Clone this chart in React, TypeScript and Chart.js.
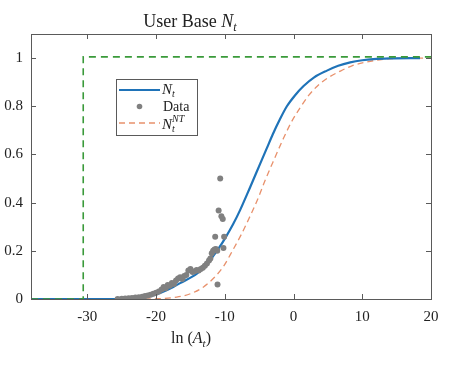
import React, { useEffect, useRef } from "react";
import { Chart, registerables } from "chart.js";

Chart.register(...registerables);

const xTicks = [-30, -20, -10, 0, 10, 20];
const yTicks = [0, 0.2, 0.4, 0.6, 0.8, 1];

const blueX = [-38.2, -28, -24, -22.3, -20.5, -19.4, -17.5, -16.5, -14.06, -12.6, -10.9, -9.9, -8.8, -7.76, -6.3, -4.85, -3.9, -3.0, -2.0, -0.97, 0.2, 1.46, 3.0, 4.86, 6.5, 8.25, 10.0, 11.6, 14.0, 18.4];
const blueY = [0, 0, 0.001, 0.004, 0.015, 0.025, 0.05, 0.066, 0.105, 0.145, 0.21, 0.255, 0.31, 0.37, 0.465, 0.562, 0.625, 0.685, 0.745, 0.8, 0.845, 0.884, 0.92, 0.948, 0.968, 0.982, 0.991, 0.996, 0.999, 1.0];

const orangeX = [-26, -20, -17, -15, -13.1, -11.5, -10.2, -8.8, -7.6, -6.5, -5.2, -4.1, -3.0, -1.5, -0.3, 0.98, 2.2, 3.4, 5.0, 6.8, 8.5, 10.7, 12.5, 14.6, 20];
const orangeY = [0, 0.001, 0.008, 0.022, 0.05, 0.09, 0.135, 0.205, 0.268, 0.333, 0.415, 0.495, 0.568, 0.665, 0.735, 0.795, 0.845, 0.882, 0.918, 0.946, 0.968, 0.984, 0.993, 0.998, 1.0];

const greenX = [-38.2, -30.6, -30.6, 20];
const greenY = [0, 0, 1.005, 1.005];

const dataX = [-25.6, -25.0, -24.5, -24.0, -23.5, -23.0, -22.5, -22.0, -21.6, -21.2, -20.8, -20.4, -20.0, -19.6, -19.2, -18.9, -18.6, -18.3, -18.0, -17.7, -17.4, -17.1, -16.8, -16.5, -16.2, -15.9, -15.6, -15.3, -15.0, -14.7, -14.4, -14.1, -13.8, -13.5, -13.2, -12.9, -12.6, -12.3, -12.1, -11.9, -11.7, -11.5, -11.3, -11.1, -11.4, -10.1, -10.2, -10.9, -10.5, -10.3, -10.67, -11.06];
const dataY = [0.0, 0.001, 0.002, 0.003, 0.004, 0.006, 0.007, 0.009, 0.012, 0.015, 0.018, 0.022, 0.026, 0.031, 0.039, 0.05, 0.045, 0.058, 0.055, 0.066, 0.062, 0.077, 0.085, 0.09, 0.083, 0.095, 0.1, 0.118, 0.125, 0.112, 0.115, 0.12, 0.118, 0.125, 0.13, 0.138, 0.147, 0.16, 0.168, 0.19, 0.2, 0.205, 0.208, 0.2, 0.258, 0.258, 0.212, 0.367, 0.343, 0.332, 0.5, 0.06];

const titleText = "User Base ";
const xLabelText = "ln (";
const legendLabels = ["Data"];

const SERIF = "'Liberation Serif', 'DejaVu Serif', serif";
const BLUE = "#1f73b8";
const ORANGE = "#e8916c";
const GREEN = "#3a9a3a";
const GREY = "#808080";

const pts = (xs: number[], ys: number[]) => xs.map((x, i) => ({ x, y: ys[i] }));

type Part = { t: string; italic?: boolean; size: number; dy?: number };

function drawRich(ctx: CanvasRenderingContext2D, parts: Part[], x: number, y: number, align: "left" | "center") {
  let w = 0;
  for (const p of parts) {
    ctx.font = `${p.italic ? "italic " : ""}${p.size}px ${SERIF}`;
    w += ctx.measureText(p.t).width;
  }
  let cx = align === "center" ? x - w / 2 : x;
  ctx.textBaseline = "alphabetic";
  ctx.textAlign = "left";
  for (const p of parts) {
    ctx.font = `${p.italic ? "italic " : ""}${p.size}px ${SERIF}`;
    ctx.fillText(p.t, cx, y + (p.dy || 0));
    cx += ctx.measureText(p.t).width;
  }
}

const decor = {
  id: "decor",
  afterDraw(chart: any) {
    const ctx: CanvasRenderingContext2D = chart.ctx;
    const { left, right, top, bottom } = chart.chartArea;
    const xs = chart.scales.x;
    const ys = chart.scales.y;
    ctx.save();
    ctx.strokeStyle = "#5a5a5a";
    ctx.lineWidth = 1;
    ctx.setLineDash([]);
    ctx.strokeRect(Math.round(left) + 0.5, Math.round(top) + 0.5, Math.round(right - left), Math.round(bottom - top));
    ctx.beginPath();
    for (const v of xTicks) {
      const px = Math.round(xs.getPixelForValue(v)) + 0.5;
      ctx.moveTo(px, bottom);
      ctx.lineTo(px, bottom - 5);
      ctx.moveTo(px, top);
      ctx.lineTo(px, top + 5);
    }
    for (const v of yTicks) {
      const py = Math.round(ys.getPixelForValue(v)) + 0.5;
      ctx.moveTo(left, py);
      ctx.lineTo(left + 5, py);
      ctx.moveTo(right, py);
      ctx.lineTo(right - 5, py);
    }
    ctx.stroke();

    ctx.fillStyle = "#222";
    drawRich(ctx, [
      { t: titleText, size: 18 },
      { t: "N", italic: true, size: 18 },
      { t: "t", italic: true, size: 12, dy: 4 },
    ], 190, 27, "center");
    drawRich(ctx, [
      { t: xLabelText, size: 16 },
      { t: "A", italic: true, size: 16 },
      { t: "t", italic: true, size: 11, dy: 4 },
      { t: ")", size: 16 },
    ], 191, 343, "center");

    ctx.fillStyle = "#fff";
    ctx.fillRect(116.5, 79.5, 81, 56);
    ctx.strokeStyle = "#5a5a5a";
    ctx.lineWidth = 1;
    ctx.strokeRect(116.5, 79.5, 81, 56);
    ctx.strokeStyle = BLUE;
    ctx.lineWidth = 2;
    ctx.beginPath();
    ctx.moveTo(119, 90);
    ctx.lineTo(160, 90);
    ctx.stroke();
    ctx.fillStyle = GREY;
    ctx.beginPath();
    ctx.arc(139.5, 106.5, 2.8, 0, Math.PI * 2);
    ctx.fill();
    ctx.strokeStyle = ORANGE;
    ctx.lineWidth = 1.3;
    ctx.setLineDash([6, 4]);
    ctx.beginPath();
    ctx.moveTo(119, 123);
    ctx.lineTo(160, 123);
    ctx.stroke();
    ctx.setLineDash([]);
    ctx.fillStyle = "#222";
    drawRich(ctx, [
      { t: "N", italic: true, size: 15 },
      { t: "t", italic: true, size: 10, dy: 3 },
    ], 162, 94, "left");
    drawRich(ctx, [{ t: legendLabels[0], size: 14 }], 163, 111, "left");
    ctx.font = `italic 15px ${SERIF}`;
    ctx.textAlign = "left";
    ctx.textBaseline = "alphabetic";
    ctx.fillText("N", 162, 129);
    const nw = ctx.measureText("N").width;
    ctx.font = `italic 10px ${SERIF}`;
    ctx.fillText("t", 162 + nw, 132);
    ctx.fillText("NT", 162 + nw, 122);
    ctx.restore();
  },
};

export default function App() {
  const ref = useRef<HTMLCanvasElement | null>(null);
  useEffect(() => {
    if (!ref.current) return;
    const chart = new Chart(ref.current, {
      type: "scatter",
      data: {
        datasets: [
          {
            type: "line",
            label: "green",
            data: pts(greenX, greenY),
            borderColor: GREEN,
            borderWidth: 1.6,
            borderDash: [7, 5],
            pointRadius: 0,
            fill: false,
            tension: 0,
            order: 0,
          } as any,
          {
            label: "Data",
            data: pts(dataX, dataY),
            backgroundColor: GREY,
            borderWidth: 0,
            pointRadius: 3,
            order: 1,
          },
          {
            type: "line",
            label: "Nt",
            data: pts(blueX, blueY),
            borderColor: BLUE,
            borderWidth: 2.2,
            pointRadius: 0,
            fill: false,
            cubicInterpolationMode: "monotone",
            order: 2,
          } as any,
          {
            type: "line",
            label: "NtNT",
            data: pts(orangeX, orangeY),
            borderColor: ORANGE,
            borderWidth: 1.3,
            borderDash: [6, 4],
            pointRadius: 0,
            fill: false,
            cubicInterpolationMode: "monotone",
            order: 3,
          } as any,
        ],
      },
      options: {
        animation: false,
        responsive: false,
        devicePixelRatio: 1,
        layout: { padding: { left: 0, top: 34, right: 26, bottom: 0 } },
        plugins: { legend: { display: false }, tooltip: { enabled: false }, title: { display: false } },
        scales: {
          x: {
            type: "linear",
            min: -38.2,
            max: 20,
            grid: { display: false },
            border: { display: false },
            afterBuildTicks: (s: any) => {
              s.ticks = xTicks.map((v) => ({ value: v }));
            },
            afterFit: (s: any) => {
              s.height = 72;
            },
            ticks: {
              color: "#222",
              padding: 1,
              font: { family: SERIF, size: 15 },
              callback: (v: any) => String(v),
              maxRotation: 0,
            },
          },
          y: {
            type: "linear",
            min: 0,
            max: 1.1,
            grid: { display: false },
            border: { display: false },
            afterBuildTicks: (s: any) => {
              s.ticks = yTicks.map((v) => ({ value: v }));
            },
            afterFit: (s: any) => {
              s.width = 31;
            },
            ticks: {
              color: "#222",
              padding: 0,
              font: { family: SERIF, size: 15 },
              callback: (v: any) => String(v),
            },
          },
        },
      },
      plugins: [decor],
    });
    return () => chart.destroy();
  }, []);
  return (
    <div style={{ position: "fixed", left: 0, top: 0, width: 457, height: 371, background: "#fff" }}>
      <canvas ref={ref} width={457} height={371} style={{ width: 457, height: 371, display: "block" }} />
    </div>
  );
}
